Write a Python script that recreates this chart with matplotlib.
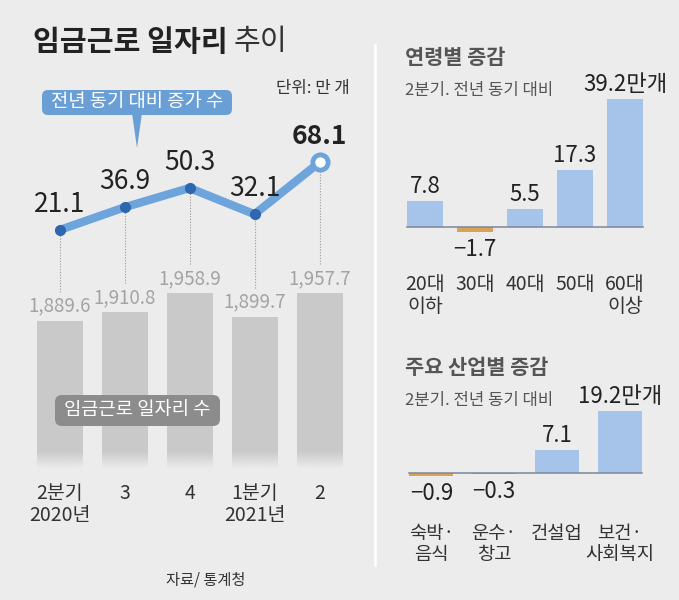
import numpy as np
import matplotlib
matplotlib.use('Agg')
import matplotlib.pyplot as plt
from matplotlib.transforms import Affine2D
from matplotlib.patches import FancyBboxPatch, Polygon
from matplotlib.lines import Line2D
from matplotlib.text import Annotation

# ---------------- data ----------------
quarters = ['2분기\n2020년', '3', '4', '1분기\n2021년', '2']
jobs = [1889.6, 1910.8, 1958.9, 1899.7, 1957.7]
yoy = [21.1, 36.9, 50.3, 32.1, 68.1]

age_groups = ['20대\n이하', '30대', '40대', '50대', '60대\n이상']
age_change = [7.8, -1.7, 5.5, 17.3, 39.2]

industries = ['숙박·\n음식', '운수·\n창고', '건설업', '보건·\n사회복지']
ind_change = [-0.9, -0.3, 7.1, 19.2]

# ---------------- style ----------------
FONTS = ['Noto Sans CJK KR', 'DejaVu Sans']
plt.rcParams['font.family'] = FONTS
BG = '#ececec'
BAR_GRAY = '#c9c9c9'
LINE_BLUE = '#6ea4dc'
DOT_BLUE = '#2e66b0'
POS = '#a6c4ea'
NEG = '#d8a356'
TXT = '#222222'

W, H = 679, 600
fig = plt.figure(figsize=(W / 100, H / 100), dpi=100, facecolor=BG)
PX = Affine2D().scale(1 / W, -1 / H).translate(0, 1) + fig.transFigure


def rect(x0, y0, x1, y1):
    return [x0 / W, 1 - y1 / H, (x1 - x0) / W, (y1 - y0) / H]


def clean(ax):
    ax.set_facecolor('none')
    for s in ax.spines.values():
        s.set_visible(False)
    ax.set_yticks([])


# ---------------- left panel ----------------
x = np.arange(len(jobs))
axb = fig.add_axes(rect(27, 150, 352, 468))
clean(axb)
axb.set_xlim(-0.5, 4.5)
axb.set_ylim(1521, 2316)
axb.bar(x, jobs, width=46 / 65, color=BAR_GRAY, zorder=2)

# fade at the bottom of the bars
grad = np.zeros((60, 1, 4))
grad[..., :3] = matplotlib.colors.to_rgb(BG)
grad[..., 3] = np.linspace(0, 1, 60)[:, None]
axb.imshow(grad, extent=(-0.5, 4.5, 1521, 1521 + 17 / 0.4), aspect='auto',
           origin='upper', zorder=3, interpolation='bilinear')
axb.set_xlim(-0.5, 4.5)
axb.set_ylim(1521, 2316)

for i, v in enumerate(jobs):
    axb.annotate(f'{v:,.1f}', (i, v), xytext=(0, 4), textcoords='offset pixels',
                 ha='center', va='bottom', fontsize=13.5, color='#a3a3a3', zorder=4)

axb.set_xticks(x, quarters)
axb.tick_params(axis='x', length=0, pad=11, labelsize=14, labelcolor='#333333')
for lab in axb.get_xticklabels():
    lab.set_linespacing(1.05)

axl = fig.add_axes(rect(27, 150, 352, 468))
axl.set_axis_off()
axl.set_xlim(-0.5, 4.5)
axl.set_ylim(-144.2, 76.7)
axl.plot(x, yoy, color=LINE_BLUE, lw=6, solid_capstyle='round',
         solid_joinstyle='round', zorder=3)
axl.plot(x[:-1], yoy[:-1], 'o', ms=7, color=DOT_BLUE, zorder=4)
axl.plot(x[-1:], yoy[-1:], 'o', ms=11, mfc='white', mec=LINE_BLUE, mew=3.5, zorder=5)
for i, v in enumerate(yoy):
    axl.annotate(f'{v:.1f}', (i, v), xytext=(0, 26), textcoords='offset pixels',
                 ha='center', va='center', fontsize=19, color=TXT,
                 fontweight='bold' if i == len(yoy) - 1 else 'normal')

# dotted connectors from line points down to bar labels
fig.canvas.draw()
for i in x:
    disp_top = axl.transData.transform((i, yoy[i]))
    disp_bot = axb.transData.transform((i, jobs[i])) + np.array([0, 29])
    y_top = axb.transData.inverted().transform(disp_top)[1]
    y_bot = axb.transData.inverted().transform(disp_bot)[1]
    axb.plot([i, i], [y_bot, y_top], color='#9a9a9a', lw=0.8,
             ls=(0, (1, 1.5)), zorder=1)

# title & notes
t1 = fig.text(33, 42, '임금근로 일자리', transform=PX, fontsize=21,
              fontweight='bold', color=TXT, ha='left', va='center')
fig.add_artist(Annotation('추이', xy=(1, 0.5), xycoords=t1, xytext=(6, 0),
                          textcoords='offset pixels', ha='left', va='center',
                          fontsize=21, color='#333333'))
fig.text(350, 88, '단위: 만 개', transform=PX, fontsize=12, color='#333333',
         ha='right', va='center')

fig.add_artist(FancyBboxPatch((42, 90), 190, 25, boxstyle='round,pad=0,rounding_size=6',
                              transform=PX, fc='#6a9fd6', ec='none', zorder=5))
fig.add_artist(Polygon([(132, 113), (142, 113), (137, 148)], closed=True,
                       transform=PX, fc='#6a9fd6', ec='none', zorder=5))
fig.text(137, 102, '전년 동기 대비 증가 수', transform=PX, fontsize=13.5,
         color='white', ha='center', va='center', zorder=6)

fig.add_artist(FancyBboxPatch((55, 395), 165, 31, boxstyle='round,pad=0,rounding_size=7',
                              transform=PX, fc='#8c8c8c', ec='none', zorder=5))
fig.text(137, 410, '임금근로 일자리 수', transform=PX, fontsize=13.5,
         color='white', ha='center', va='center', zorder=6)

fig.text(206, 580, '자료/ 통계청', transform=PX, fontsize=11, color='#333333',
         ha='center', va='center')

# separator
fig.add_artist(Line2D([375, 375], [45, 565], transform=PX, color='white', lw=1.8))


# ---------------- right panels ----------------
def change_panel(ax, cats, vals, width, label_size):
    clean(ax)
    n = len(vals)
    xs = np.arange(n)
    ax.set_xlim(-0.5, n - 0.5)
    ax.bar(xs, vals, width=width, color=[POS if v >= 0 else NEG for v in vals], zorder=2)
    edge = (0.5 - width / 2) / n
    ax.axhline(0, xmin=edge, xmax=1 - edge, color='#7d8799', lw=1.1, zorder=3)
    for i, v in enumerate(vals):
        s = f'{v:.1f}'.replace('-', '\u2212')
        if i == n - 1:
            s += '만개'
        if v >= 0:
            ax.annotate(s, (i, v), xytext=(0, 3), textcoords='offset pixels',
                        ha='center', va='bottom', fontsize=16, color=TXT)
        else:
            ax.annotate(s, (i, v), xytext=(0, -6), textcoords='offset pixels',
                        ha='center', va='top', fontsize=16, color=TXT)
    ax.set_xticks(xs, cats)
    ax.tick_params(axis='x', length=0, pad=9, labelsize=label_size, labelcolor='#333333')
    for lab in ax.get_xticklabels():
        lab.set_linespacing(1.05)


fig.text(405, 57, '연령별 증감', transform=PX, fontsize=15, fontweight='bold',
         color='#555555', ha='left', va='center')
fig.text(405, 91, '2분기. 전년 동기 대비', transform=PX, fontsize=12,
         color='#555555', ha='left', va='center')
ar1 = fig.add_axes(rect(400, 90, 650, 262))
ar1.set_ylim(-10.8, 41.8)
change_panel(ar1, age_groups, age_change, 36 / 50, 14)

fig.text(405, 368, '주요 산업별 증감', transform=PX, fontsize=15, fontweight='bold',
         color='#555555', ha='left', va='center')
fig.text(405, 401, '2분기. 전년 동기 대비', transform=PX, fontsize=12,
         color='#555555', ha='left', va='center')
ar2 = fig.add_axes(rect(400, 400, 651, 510))
ar2.set_ylim(-11.3, 22.55)
change_panel(ar2, industries, ind_change, 44 / 62.75, 13.5)

fig.savefig('out.png', dpi=100, facecolor=BG)
